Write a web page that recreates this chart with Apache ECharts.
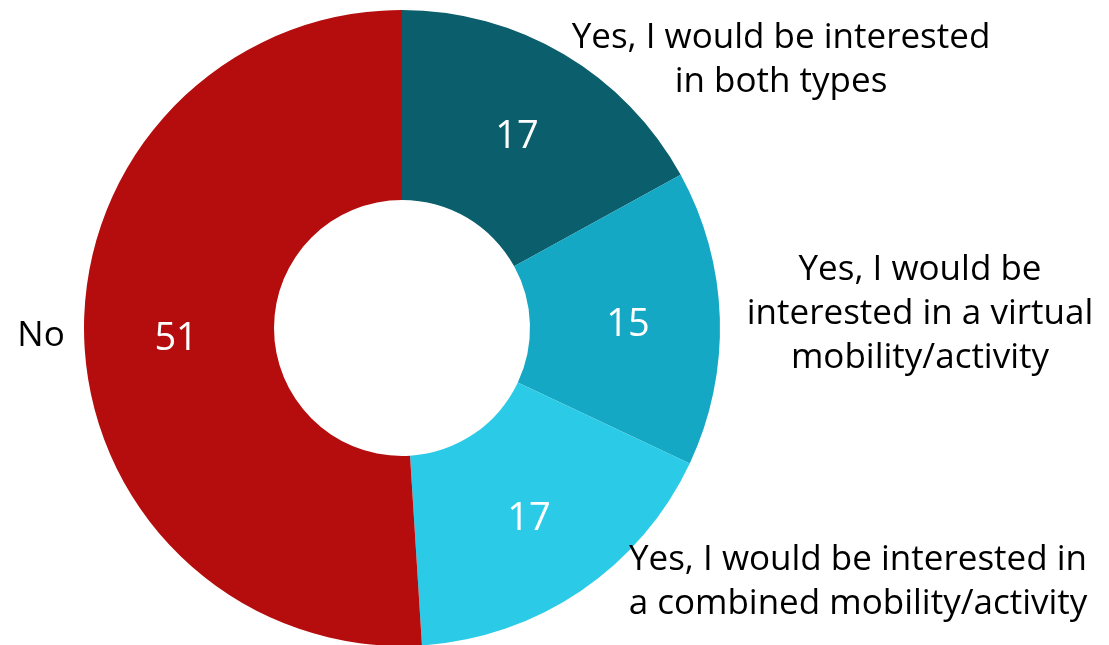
<!DOCTYPE html>
<html>
<head>
<meta charset="utf-8">
<script src="https://cdn.jsdelivr.net/npm/echarts@6/dist/echarts.min.js"></script>
<style>
  html, body { margin: 0; padding: 0; background: #fff; }
  #chart { width: 1109px; height: 645px; }
</style>
</head>
<body>
<div id="chart"></div>
<script>
const categories = [
  'Yes, I would be interested\nin both types',
  'Yes, I would be\ninterested in a virtual\nmobility/activity',
  'Yes, I would be interested in\na combined mobility/activity',
  'No',
]
const values = [17, 15, 17, 51]
const colors = ['#0B5E6B', '#14A8C5', '#2BCBE8', '#B50D0D']

// where the category text sits (page pixels)
const labelPos = [
  [781, 60],
  [920, 314],
  [858, 582],
  [41, 336],
]

const fontFamily = '"Open Sans", "Noto Sans", sans-serif'
const chart = echarts.init(document.getElementById('chart'))

const data = categories.map((name, i) => ({
  name: name,
  value: values[i],
  itemStyle: { color: colors[i] },
}))

chart.setOption({
  animation: false,
  series: [
    {
      type: 'pie',
      center: [402, 328],
      radius: [128, 318],
      startAngle: 90,
      clockwise: true,
      silent: true,
      data: data,
      label: {
        show: true,
        position: 'inside',
        formatter: '{c}',
        color: '#fff',
        fontSize: 38,
        fontFamily: fontFamily,
      },
      labelLine: { show: false },
      labelLayout: { dy: 4 },
    },
    {
      type: 'pie',
      center: [402, 328],
      radius: [128, 318],
      startAngle: 90,
      clockwise: true,
      silent: true,
      avoidLabelOverlap: false,
      data: categories.map((name, i) => ({
        name: name,
        value: values[i],
        itemStyle: { color: 'rgba(0,0,0,0)' },
      })),
      label: {
        show: true,
        position: 'outside',
        formatter: '{b}',
        color: '#000',
        fontSize: 35,
        lineHeight: 44,
        align: 'center',
        fontFamily: fontFamily,
      },
      labelLine: { show: false },
      labelLayout: (params) => ({
        x: labelPos[params.dataIndex][0],
        y: labelPos[params.dataIndex][1],
        align: 'center',
        verticalAlign: 'middle',
      }),
    },
  ],
})
</script>
</body>
</html>
